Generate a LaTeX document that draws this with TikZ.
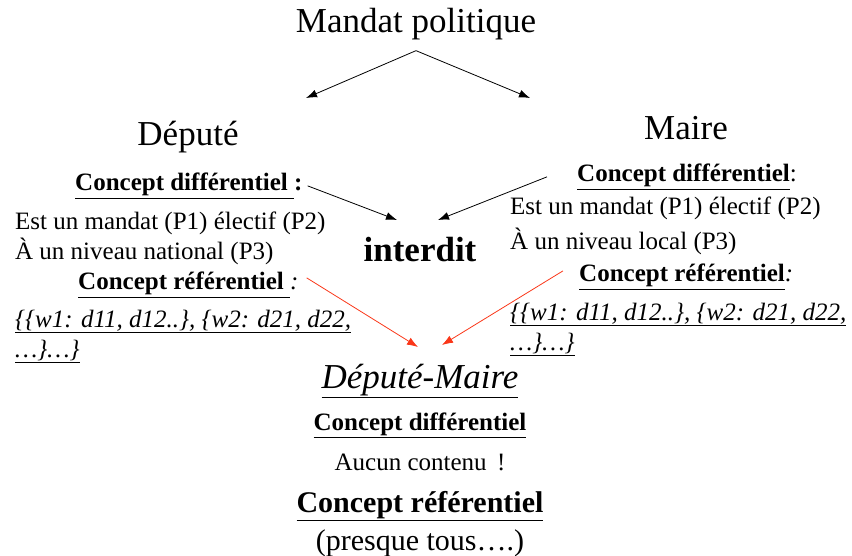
\documentclass[tikz,border=0pt]{standalone}
\usepackage{fontspec}
\setmainfont{Liberation Serif}
\usetikzlibrary{arrows.meta}

\definecolor{redlink}{RGB}{250,55,25}

\tikzset{
    every node/.style={inner sep=0pt},
    big/.style={font=\fontsize{35}{42}\selectfont},
    mid/.style={font=\fontsize{30}{36}\selectfont},
    small/.style={font=\fontsize{25}{30}\selectfont},
    link/.style={-{Latex[length=11pt,width=8pt]}, line width=0.8pt},
}

\begin{document}
\begin{tikzpicture}[x=1pt,y=-1pt]
    \useasboundingbox (0,0) rectangle (852,556);

    % Top of the tree
    \node[big, anchor=base] (mandat) at (416,33) {Mandat politique};
    \node[big, anchor=base] (depute) at (188,146) {Député};
    \node[big, anchor=base] (maire) at (686,140) {Maire};

    % Left column (Depute)
    \node[small, anchor=base west] (cdl) at (75,191) {\textbf{\underline{Concept différentiel }:}};
    \node[small, anchor=base west] (pl1) at (15,230) {Est un mandat (P1) électif (P2)};
    \node[small, anchor=base west] (pl2) at (15,260) {À un niveau national (P3)};
    \node[small, anchor=base west] (crl) at (78,290) {\textbf{\underline{Concept référentiel }}\textit{:}};
    \node[small, anchor=base west] (wl1) at (15,327) {\itshape\underline{\{\{w1: d11, d12..\}, \{w2: d21, d22,}};
    \node[small, anchor=base west] (wl2) at (15,357) {\itshape\underline{…\}…\}}};

    % Right column (Maire)
    \node[small, anchor=base west] (cdm) at (577,182) {\textbf{\underline{Concept différentiel}}:};
    \node[small, anchor=base west] (pm1) at (510,215) {Est un mandat (P1) électif (P2)};
    \node[small, anchor=base west] (pm2) at (510,250) {À un niveau local (P3)};
    \node[small, anchor=base west] (crm) at (579,282) {\textbf{\underline{Concept référentiel}}\textit{:}};
    \node[small, anchor=base west] (wm1) at (510,320) {\itshape\underline{\{\{w1: d11, d12..\}, \{w2: d21, d22,}};
    \node[small, anchor=base west] (wm2) at (510,350) {\itshape\underline{…\}…\}}};

    % Middle
    \node[big, anchor=base] (interdit) at (420,262) {\textbf{interdit}};
    \node[big, anchor=base] (dm) at (420,388) {\itshape\underline{Député-Maire}};
    \node[small, anchor=base] (cdb) at (420,430) {\textbf{\underline{Concept différentiel}}};
    \node[small, anchor=base] (aucun) at (420,470) {Aucun contenu \,!};
    \node[mid, anchor=base] (crb) at (420,512) {\textbf{\underline{Concept référentiel}}};
    \node[mid, anchor=base] (presque) at (420,550) {(presque tous….)};

    % Arrow tips
    \coordinate (tipmd) at (306,98);
    \coordinate (tipmm) at (530,98);
    \coordinate (tipdl) at (397,220);
    \coordinate (tipdr) at (438,220);
    \coordinate (tiprl) at (418,347);
    \coordinate (tiprr) at (442,345);

    % Arrows
    \draw[link] ([yshift=-10pt]mandat.south) -- (tipmd);
    \draw[link] ([yshift=-10pt]mandat.south) -- (tipmm);
    \draw[link] ([xshift=5pt]cdl.east) -- (tipdl);
    \draw[link] ([xshift=-30pt]cdm.west) -- (tipdr);
    \draw[link, color=redlink] ([xshift=8pt,yshift=7pt]crl.east) -- (tiprl);
    \draw[link, color=redlink] ([xshift=-16pt,yshift=6pt]crm.west) -- (tiprr);
\end{tikzpicture}
\end{document}
